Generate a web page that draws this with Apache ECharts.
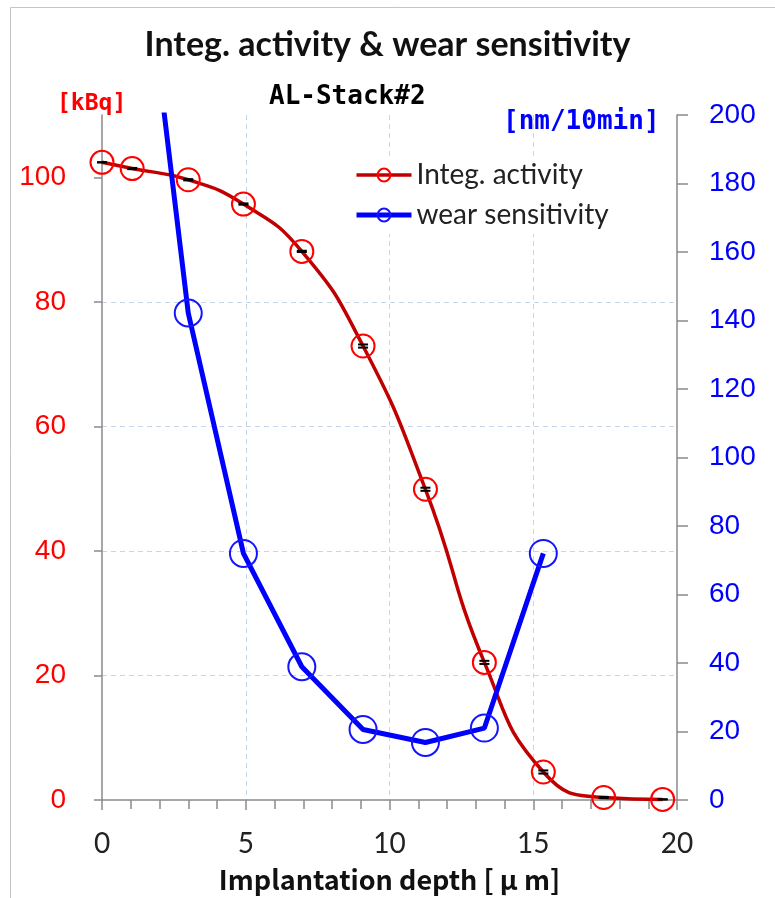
<!DOCTYPE html>
<html>
<head>
<meta charset="utf-8">
<script src="https://cdn.jsdelivr.net/npm/echarts@6/dist/echarts.min.js"></script>
<style>html,body{margin:0;padding:0;background:#fff}#c{width:775px;height:898px}</style>
</head>
<body>
<div id="c"></div>
<script>
// ---- data ----
var depthActivity = [0, 1.05, 3.0, 4.92, 6.95, 9.08, 11.25, 13.3, 15.35, 17.45, 19.5];
var activity      = [102.4, 101.4, 99.6, 95.7, 88.1, 72.9, 49.9, 22.1, 4.5, 0.4, 0.1];
var activityErr   = [0, 0.1, 0.1, 0.1, 0.1, 0.25, 0.25, 0.25, 0.25, 0.1, 0];
var depthWear     = [1.05, 3.0, 4.92, 6.95, 9.08, 11.25, 13.3, 15.35];
var wear          = [278, 142.2, 72, 38.9, 20.6, 16.8, 21, 72];
var xTicks        = [0, 5, 10, 15, 20];
var leftTicks     = [0, 20, 40, 60, 80, 100];
var rightTicks    = [0, 20, 40, 60, 80, 100, 120, 140, 160, 180, 200];
var seriesNames   = ['Integ. activity', 'wear sensitivity'];

var actData = depthActivity.map(function (x, i) { return [x, activity[i]]; });
var errData = depthActivity.map(function (x, i) { return [x, activity[i] - activityErr[i], activity[i] + activityErr[i]]; });
var wearData = depthWear.map(function (x, i) { return [x, wear[i]]; });

var chart = echarts.init(document.getElementById('c'), null, { renderer: 'canvas' });
var gridColor = '#c6d6ea';
var axisGray = '#8a8a8a';

chart.setOption({
  backgroundColor: '#fff',
  animation: false,
  title: {
    text: 'Integ. activity & wear sensitivity',
    left: 'center', top: 23,
    textStyle: { fontFamily: 'Lato', fontWeight: 'bold', fontSize: 34, color: '#111' }
  },
  graphic: [
    { type: 'rect', shape: { x: 10.5, y: 7.5, width: 900, height: 1000 }, style: { fill: 'none', stroke: '#c4c4c4', lineWidth: 1 }, silent: true },
    { type: 'text', left: 269, top: 84, style: { text: 'AL-Stack#2', font: 'bold 26px "DejaVu Sans Mono"', fill: '#000' } },
    { type: 'text', left: 57, top: 93, style: { text: '[kBq]', font: 'bold 23px "DejaVu Sans Mono"', fill: '#ff0000' } },
    { type: 'text', left: 503, top: 109, style: { text: '[nm/10min]', font: 'bold 26px "DejaVu Sans Mono"', fill: '#0000ff' } }
  ],
  legend: {
    data: [
      { name: seriesNames[0], lineStyle: { width: 3.5, color: '#c00000' } },
      { name: seriesNames[1], lineStyle: { width: 5, color: '#0000ff' } }
    ],
    orient: 'vertical',
    left: 349, top: 156,
    itemWidth: 55, itemHeight: 16, itemGap: 12,
    backgroundColor: '#fff',
    textStyle: { fontFamily: 'Lato', fontSize: 28, color: '#222' }
  },
  grid: { left: 102, right: 98, top: 115, bottom: 94, containLabel: false },
  xAxis: {
    type: 'value', min: 0, max: 20, interval: 5,
    name: 'Implantation depth [ μ m]', nameLocation: 'middle', nameGap: 66,
    nameTextStyle: { fontFamily: 'Noto Sans CJK JP', fontSize: 27, fontWeight: 'bold', color: '#111' },
    axisLine: { lineStyle: { color: axisGray, width: 1.5 } },
    axisTick: { length: 10, lineStyle: { color: axisGray, width: 1.5 } },
    minorTick: { show: true, splitNumber: 5, length: 9, lineStyle: { color: axisGray, width: 1.5 } },
    axisLabel: { margin: 30, fontFamily: 'Lato', fontSize: 28, color: '#222',
      customValues: xTicks },
    splitLine: { show: true, showMinLine: false, showMaxLine: false, lineStyle: { color: gridColor, type: [5, 4], width: 1 } }
  },
  yAxis: [
    {
      type: 'value', min: 0, max: 110, interval: 20, position: 'left',
      axisLine: { show: true, lineStyle: { color: axisGray, width: 1.5 } },
      axisTick: { show: true, length: 8, customValues: leftTicks, lineStyle: { color: axisGray, width: 1.5 } },
      axisLabel: { margin: 36, fontFamily: 'Liberation Sans', fontSize: 28, color: '#ff0000',
        customValues: leftTicks },
      splitLine: { show: true, showMinLine: false, showMaxLine: false, lineStyle: { color: gridColor, type: [5, 4], width: 1 } }
    },
    {
      type: 'value', min: 0, max: 200, interval: 20, position: 'right',
      axisLine: { show: true, lineStyle: { color: axisGray, width: 1.5 } },
      axisTick: { show: true, length: 11, customValues: rightTicks, lineStyle: { color: axisGray, width: 1.5 } },
      axisLabel: { margin: 32, fontFamily: 'Liberation Sans', fontSize: 28, color: '#0000ff',
        customValues: rightTicks },
      splitLine: { show: false }
    }
  ],
  series: [
    {
      name: seriesNames[0], type: 'line', yAxisIndex: 0, data: actData,
      smooth: 0.5,
      symbol: 'circle', symbolSize: 23,
      lineStyle: { color: '#c00000', width: 3.5 },
      itemStyle: { color: 'rgba(0,0,0,0)', borderColor: '#ff0000', borderWidth: 2 },
      z: 2
    },
    {
      name: 'err', type: 'custom', yAxisIndex: 0, data: errData, z: 3,
      renderItem: function (params, api) {
        var lo = api.coord([api.value(0), api.value(1)]);
        var hi = api.coord([api.value(0), api.value(2)]);
        var hw = 5;
        return {
          type: 'group',
          children: [
            { type: 'line', shape: { x1: lo[0] - hw, y1: lo[1], x2: lo[0] + hw, y2: lo[1] }, style: { stroke: '#000', lineWidth: 2 } },
            { type: 'line', shape: { x1: hi[0] - hw, y1: hi[1], x2: hi[0] + hw, y2: hi[1] }, style: { stroke: '#000', lineWidth: 2 } }
          ]
        };
      }
    },
    {
      name: seriesNames[1], type: 'line', yAxisIndex: 1, data: wearData,
      smooth: false, clip: true,
      symbol: 'circle', symbolSize: 27,
      lineStyle: { color: '#0000ff', width: 5 },
      itemStyle: { color: 'rgba(0,0,0,0)', borderColor: '#1414ff', borderWidth: 2 },
      z: 4
    }
  ]
});
</script>
</body>
</html>
